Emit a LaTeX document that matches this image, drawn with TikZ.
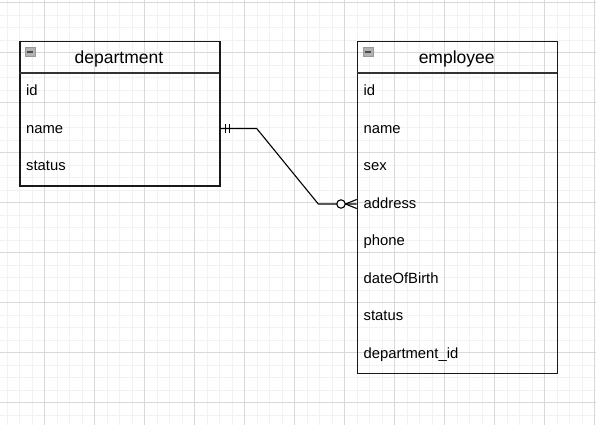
\documentclass[tikz,border=0pt]{standalone}
\usepackage{fontspec}
\setmainfont{Liberation Sans}
\begin{document}
\begin{tikzpicture}[x=1pt,y=-1pt,
  minorgrid/.style={draw=black!5, line width=0.8pt},
  majorgrid/.style={draw=black!15, line width=0.8pt},
  tablebox/.style={draw=black!90, line width=1.5pt, minimum width=200pt, inner sep=0pt, anchor=north west},
  sepline/.style={draw=black!80, line width=1.5pt},
  titletext/.style={font=\fontsize{17.5}{20}\selectfont, anchor=base, inner sep=0pt},
  field/.style={font=\fontsize{14.8}{17}\selectfont, anchor=base west, inner sep=0pt},
  rel/.style={draw=black, line width=1.1pt},
  iconbox/.style={draw=black!40, fill=black!30, line width=0.8pt, minimum width=10pt, minimum height=9pt, inner sep=0pt},
  iconbar/.style={draw=black!70, line width=1.8pt}
]
\useasboundingbox (0,0) rectangle (596,425);
% grid
\foreach \x in {7,19.5,...,596} \draw[minorgrid] (\x,0) -- (\x,425);
\foreach \y in {2.7,15.2,...,425} \draw[minorgrid] (0,\y) -- (596,\y);
\foreach \x in {44.5,94.5,...,596} \draw[majorgrid] (\x,0) -- (\x,425);
\foreach \y in {2.7,52.7,...,425} \draw[majorgrid] (0,\y) -- (596,\y);

% department table
\node[tablebox, minimum height=144.6pt] (dept) at (19,40.7) {};
\draw[sepline] (dept.north west) ++(0,32.3) -- ++(200,0);
\node[iconbox] (depticon) at (30.3,52) {};
\draw[iconbar] (depticon.west) ++(2,0) -- ++(6,0);
\node[titletext] (depttitle) at (119,64) {department};
\node[field] (did) at (26,95.5) {id};
\node[field] (dname) at (26,133) {name};
\node[field] (dstatus) at (26,170.5) {status};

% employee table
\node[tablebox, minimum height=332pt] (emp) at (356.7,40.7) {};
\draw[sepline] (emp.north west) ++(0,32.3) -- ++(200,0);
\node[iconbox] (empicon) at (368,52) {};
\draw[iconbar] (empicon.west) ++(2,0) -- ++(6,0);
\node[titletext] (emptitle) at (456.7,64) {employee};
\node[field] (eid) at (363.5,95.5) {id};
\node[field] (ename) at (363.5,133) {name};
\node[field] (esex) at (363.5,170.5) {sex};
\node[field] (eaddress) at (363.5,208) {address};
\node[field] (ephone) at (363.5,245.5) {phone};
\node[field] (edob) at (363.5,283) {dateOfBirth};
\node[field] (estatus) at (363.5,320.5) {status};
\node[field] (edeptid) at (363.5,358) {department\_id};

% relation
\coordinate (b1) at (256.7,128.5);
\coordinate (b2) at (318.3,204);
\coordinate (apex) at (345.5,204);
\draw[rel] (dept.east |- b1) -- (b1) -- (b2) -- (emp.west |- b2);
\draw[rel] ([xshift=5.3pt]dept.east |- b1) ++(0,-4.5) -- ++(0,9);
\draw[rel] ([xshift=9.3pt]dept.east |- b1) ++(0,-4.5) -- ++(0,9);
\draw[rel] (apex) -- ([yshift=4.5pt]emp.west |- b2);
\draw[rel] (apex) -- ([yshift=-4.5pt]emp.west |- b2);
\draw[rel, fill=white] (341,204) circle[radius=4.2];
\end{tikzpicture}
\end{document}
